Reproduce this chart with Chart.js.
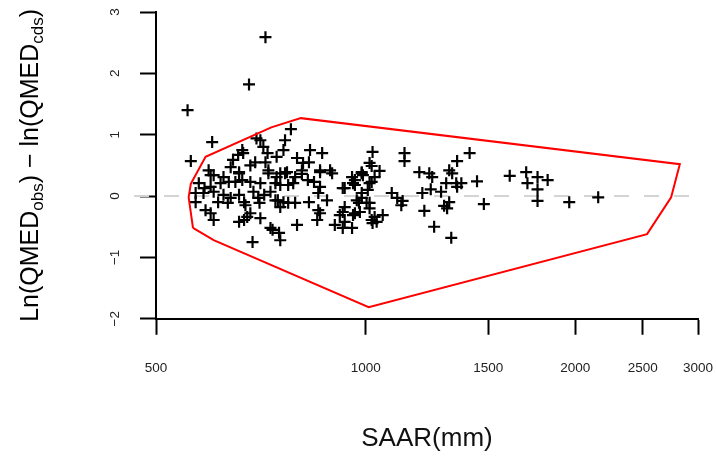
<!DOCTYPE html>
<html>
<head>
<meta charset="utf-8">
<script src="https://cdn.jsdelivr.net/npm/chart.js@4/dist/chart.umd.min.js"></script>
<style>
  html, body { margin: 0; padding: 0; background: #fff; }
  #wrap { width: 716px; height: 458px; }
</style>
</head>
<body>
<div id="wrap"><canvas id="c"></canvas></div>
<script>
// SAAR (mm) and ln(QMEDobs) - ln(QMEDcds) for each catchment
const saar = [718, 680, 555, 602, 561, 697, 781, 766, 762, 832, 866, 1023, 1137, 1137, 1410, 1353, 1318, 1445,
  1194, 1234, 1246, 1240, 1206, 1283, 1305, 1331, 1349, 1372, 1353, 1090, 1110, 1130, 1125, 1478, 1214, 1318,
  1296, 1309, 1254, 1327, 1058, 1030, 1023, 1610, 1700, 1707, 1765, 1825, 1765, 1765, 1960, 2157,
  987, 959, 1047, 1020, 1020, 1007, 987, 927, 971, 1013, 1013, 927, 959, 981, 927, 956,
  754, 771, 792, 810, 826, 843, 860, 895, 742, 754, 774, 787, 860, 855, 933, 965, 965, 991, 1013, 1030,
  748, 762, 754, 774, 792, 829, 880, 855, 860, 852, 797, 754, 735, 918, 903, 933, 978, 987, 1003, 965, 1020, 1037, 933,
  599, 658, 725, 576, 587, 599, 619, 636, 650, 665, 683, 706, 570, 585, 605, 625, 640, 658, 669, 690, 701, 715, 730, 742,
  570, 614, 634, 672, 704, 589, 599, 605, 658, 669, 683, 706, 676, 730, 751, 688,
  595, 605, 645, 665, 667, 656, 706, 713, 723, 718, 694, 683, 640, 658, 725, 625, 745, 745,
  797, 813, 829, 860, 889, 810, 766, 987, 1013, 956];
const lnRatio = [2.59, 1.82, 1.40, 0.88, 0.57, 0.94, 1.09, 0.91, 0.75, 0.75, 0.70, 0.72, 0.70, 0.57, 0.70, 0.57, 0.42, 0.24,
  0.39, 0.37, 0.31, 0.11, 0.05, 0.07, 0.21, 0.37, 0.21, 0.21, 0.15, 0.05, -0.03, -0.08, -0.15, -0.13, -0.24, -0.10,
  -0.16, -0.20, -0.50, -0.68, -0.31, -0.34, -0.44, 0.33, 0.39, 0.21, 0.31, 0.26, 0.11, -0.08, -0.10, -0.02,
  0.37, 0.21, 0.41, 0.49, 0.23, 0.10, 0.05, 0.13, -0.07, -0.11, -0.20, -0.26, -0.31, -0.26, -0.52, -0.52,
  0.37, 0.39, 0.31, 0.36, 0.26, 0.23, 0.39, 0.37, 0.21, 0.18, 0.18, 0.21, 0.15, 0.05, 0.13, 0.26, 0.18, 0.34, 0.21, 0.31,
  -0.07, -0.10, -0.18, -0.11, -0.11, -0.10, -0.07, -0.23, -0.28, -0.39, -0.47, -0.72, -0.55, -0.31, -0.47, -0.18, -0.11, -0.03, -0.11, -0.28, -0.39, -0.42, -0.42,
  0.34, 0.37, 0.37, 0.21, 0.13, 0.15, 0.21, 0.23, 0.23, 0.26, 0.23, 0.21, 0.05, 0.05, 0.07, 0.02, -0.03, 0.02, -0.10, 0.07, -0.03, 0.02, 0.07, -0.07,
  -0.10, -0.10, -0.11, -0.15, -0.11, -0.23, -0.28, -0.39, -0.42, -0.39, -0.28, -0.36, -0.34, -0.52, -0.60, -0.75,
  0.42, 0.34, 0.59, 0.75, 0.70, 0.67, 0.91, 0.80, 0.70, 0.55, 0.55, 0.50, 0.47, 0.39, 0.42, 0.31, 0.64, 0.31,
  0.62, 0.54, 0.55, 0.42, 0.42, 0.42, 0.37, 0.39, 0.54, 0.31];

// red outline (closed)
const hullSaar = [565, 605, 1010, 2535, 2745, 2825, 807, 732, 589, 561, 557, 565];
const hullRatio = [-0.52, -0.72, -1.81, -0.62, -0.02, 0.52, 1.27, 1.12, 0.64, 0.20, -0.02, -0.52];

// dashed zero reference
const refSaar = [465, 3000];
const refRatio = [0, 0];

const xTicks = [500, 1000, 1500, 2000, 2500, 3000];
const yTicks = [-2, -1, 0, 1, 2, 3];

const toPts = (xs, ys) => xs.map((x, i) => ({ x: x, y: ys[i] }));

// y tick labels (rotated) and the y title with subscripts
const labelsPlugin = {
  id: 'rLabels',
  afterDraw(chart) {
    const ctx = chart.ctx;
    const ys = chart.scales.y;
    ctx.save();
    ctx.fillStyle = '#222';
    ctx.font = '13.5px "Liberation Sans", Arial, sans-serif';
    ctx.textAlign = 'center';
    ctx.textBaseline = 'middle';
    yTicks.forEach(v => {
      const py = ys.getPixelForValue(v);
      ctx.save();
      ctx.translate(115.5, py);
      ctx.rotate(-Math.PI / 2);
      ctx.fillText(v < 0 ? '\u2212' + Math.abs(v) : String(v), 0, 0);
      ctx.restore();
    });
    ctx.restore();

    const parts = [['Ln(QMED', false], ['obs', true], [') \u2212 ln(QMED', false], ['cds', true], [')', false]];
    const big = '25px "Liberation Sans", Arial, sans-serif';
    const small = '17px "Liberation Sans", Arial, sans-serif';
    ctx.save();
    ctx.fillStyle = '#000';
    ctx.textBaseline = 'alphabetic';
    ctx.textAlign = 'left';
    let total = 0;
    parts.forEach(p => { ctx.font = p[1] ? small : big; total += ctx.measureText(p[0]).width; });
    const cy = (chart.chartArea.top + chart.chartArea.bottom) / 2;
    ctx.translate(38, cy);
    ctx.rotate(-Math.PI / 2);
    let x = -total / 2;
    parts.forEach(p => {
      ctx.font = p[1] ? small : big;
      ctx.fillText(p[0], x, p[1] ? 5 : 0);
      x += ctx.measureText(p[0]).width;
    });
    ctx.restore();
  }
};

new Chart(document.getElementById('c'), {
  type: 'scatter',
  data: {
    datasets: [
      {
        label: 'ref',
        data: toPts(refSaar, refRatio),
        showLine: true,
        borderColor: '#d3d3d3',
        borderWidth: 2,
        borderDash: [15, 15],
        pointRadius: 0,
        clip: false,
        order: 3
      },
      {
        label: 'sites',
        data: toPts(saar, lnRatio),
        pointStyle: 'cross',
        pointRadius: 6,
        pointBorderWidth: 2.2,
        borderColor: '#000',
        backgroundColor: '#000',
        order: 2
      },
      {
        label: 'hull',
        data: toPts(hullSaar, hullRatio),
        showLine: true,
        borderColor: '#ff0000',
        borderWidth: 2,
        pointRadius: 0,
        order: 1
      }
    ]
  },
  options: {
    responsive: true,
    maintainAspectRatio: false,
    animation: false,
    devicePixelRatio: 1,
    layout: { padding: { left: 140, right: 18, top: 12, bottom: 4 } },
    plugins: { legend: { display: false }, tooltip: { enabled: false } },
    scales: {
      x: {
        type: 'logarithmic',
        min: 500,
        max: 3000,
        afterBuildTicks: s => { s.ticks = xTicks.map(v => ({ value: v })); },
        ticks: {
          callback: v => String(v),
          font: { family: '"Liberation Sans", Arial, sans-serif', size: 13.5, lineHeight: 5.04 },
          color: '#222',
          padding: 0,
          maxRotation: 0,
          autoSkip: false
        },
        grid: { drawOnChartArea: false, tickLength: 16, tickWidth: 2, tickColor: '#000' },
        border: { color: '#000', width: 2 },
        title: {
          display: true,
          text: 'SAAR(mm)',
          color: '#111',
          font: { family: '"Liberation Sans", Arial, sans-serif', size: 26 },
          padding: { top: 20, bottom: 0 }
        }
      },
      y: {
        min: -2,
        max: 3,
        afterBuildTicks: s => { s.ticks = yTicks.map(v => ({ value: v })); },
        ticks: { display: false },
        grid: { drawOnChartArea: false, tickLength: 16, tickWidth: 2, tickColor: '#000' },
        border: { color: '#000', width: 2 }
      }
    }
  },
  plugins: [labelsPlugin]
});
</script>
</body>
</html>
